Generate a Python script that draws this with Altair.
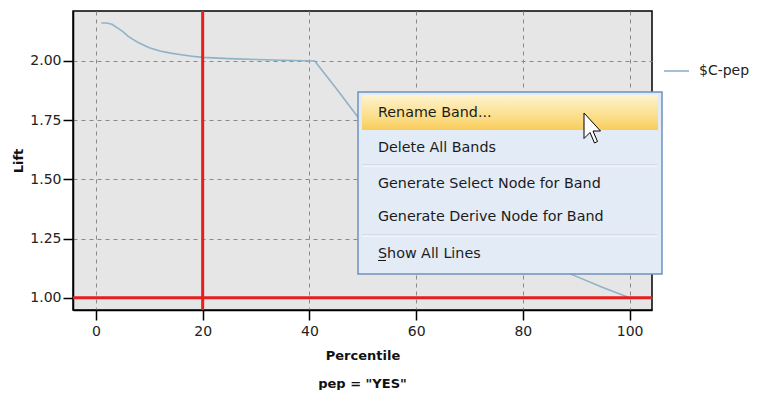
import altair as alt
import pandas as pd

# ---- data ----
percentile = [1, 2, 3, 4, 5, 6, 7, 8, 10, 12, 14, 16, 18, 20, 25, 30, 35, 41,
              45, 49, 55, 60, 65, 70, 75, 80, 85, 90, 95, 100]
lift = [2.16, 2.16, 2.155, 2.14, 2.125, 2.105, 2.09, 2.077, 2.056, 2.042, 2.033,
        2.026, 2.02, 2.015, 2.01, 2.006, 2.003, 2.0,
        1.885, 1.765, 1.62, 1.51, 1.415, 1.335, 1.262, 1.196, 1.139, 1.09, 1.043, 1.0]
series_name = ["$C-pep"]
x_ticks = [0, 20, 40, 60, 80, 100]
y_ticks = [1.0, 1.25, 1.5, 1.75, 2.0]
band_x = [20]
band_y = [1.0]
menu_items = ["Rename Band...", "Delete All Bands", "Generate Select Node for Band",
              "Generate Derive Node for Band", "Show All Lines"]
caption = ['pep = "YES"']

FONT = "DejaVu Sans"
W, H = 579, 299

x_scale = alt.Scale(domain=[-4.3, 104.2], nice=False, zero=False)
y_scale = alt.Scale(domain=[0.948, 2.211], nice=False, zero=False)

df = pd.DataFrame({"Percentile": percentile, "Lift": lift,
                   "series": [series_name[0]] * len(percentile)})

line = alt.Chart(df).mark_line(strokeWidth=1.6, clip=True).encode(
    x=alt.X("Percentile:Q", scale=x_scale,
            axis=alt.Axis(values=x_ticks, title="Percentile", format="d")),
    y=alt.Y("Lift:Q", scale=y_scale,
            axis=alt.Axis(values=y_ticks, title="Lift", format=".2f")),
    color=alt.Color("series:N", scale=alt.Scale(range=["#8fb2c6"]),
                    legend=alt.Legend(title=None, orient="none", legendX=590, legendY=46.5,
                                      symbolType="stroke", symbolSize=625,
                                      symbolStrokeWidth=1.6, labelOffset=9,
                                      labelFont=FONT, labelFontSize=14,
                                      labelColor="#222222", padding=0)),
)

vrule = alt.Chart(pd.DataFrame({"b": band_x})).mark_rule(
    color="#e61e1e", strokeWidth=3).encode(x=alt.X("b:Q", scale=x_scale))
hrule = alt.Chart(pd.DataFrame({"b": band_y})).mark_rule(
    color="#e61e1e", strokeWidth=3).encode(y=alt.Y("b:Q", scale=y_scale))

one = pd.DataFrame({"a": [0]})

# ---- context menu overlay ----
menu_box = alt.Chart(one).mark_rect(fill="#e3ebf7", stroke="#6d93bf", strokeWidth=1.5).encode(
    x=alt.value(285), x2=alt.value(589), y=alt.value(81), y2=alt.value(263))

grad = alt.LinearGradient(
    gradient="linear", x1=0, x2=0, y1=0, y2=1,
    stops=[alt.GradientStop(color="#fdf3cf", offset=0),
           alt.GradientStop(color="#fbdb80", offset=0.7),
           alt.GradientStop(color="#f8cc5a", offset=1)])
highlight = alt.Chart(one).mark_rect(fill=grad).encode(
    x=alt.value(289), x2=alt.value(585), y=alt.value(84), y2=alt.value(119))

seps = []
for sy in [154, 224]:
    seps.append(alt.Chart(one).mark_rule(color="#c3ccd8", strokeWidth=1).encode(
        x=alt.value(289), x2=alt.value(584), y=alt.value(sy)))
    seps.append(alt.Chart(one).mark_rule(color="#ffffff", strokeWidth=1).encode(
        x=alt.value(289), x2=alt.value(584), y=alt.value(sy + 1)))

item_y = [102, 137, 173, 206, 243]
items = []
for label, iy in zip(menu_items, item_y):
    items.append(alt.Chart(pd.DataFrame({"t": [label]})).mark_text(
        align="left", baseline="middle", font=FONT, fontSize=14.3, color="#1b1b1b").encode(
        x=alt.value(305), y=alt.value(iy), text="t:N"))

underline = alt.Chart(one).mark_rule(color="#1b1b1b", strokeWidth=1).encode(
    x=alt.value(305), x2=alt.value(313), y=alt.value(249.5))

cursor = alt.Chart(one).mark_point(
    shape="M-1,-1 L-1,0.7 L-0.6,0.3 L-0.3,1 L-0.1,0.9 L-0.4,0.2 L0.1,0.2 Z",
    size=900, filled=True, fill="#ffffff", stroke="#000000", strokeWidth=1, opacity=1
).encode(x=alt.value(526), y=alt.value(117))

cap = alt.Chart(pd.DataFrame({"t": caption})).mark_text(
    align="center", baseline="middle", font=FONT, fontSize=13, fontWeight="bold",
    color="#111111").encode(x=alt.value(289.5), y=alt.value(373), text="t:N")

chart = alt.layer(
    line, vrule, hrule, menu_box, highlight, *seps, *items, underline, cursor, cap
).properties(
    width=W, height=H,
    padding={"left": 65, "top": 3, "right": 101, "bottom": 80},
    autosize=alt.AutoSizeParams(type="none"),
).configure_view(
    fill="#e6e6e6", stroke="#000000", strokeWidth=1.5
).configure_axis(
    grid=True, gridColor="#8a8a8a", gridDash=[4, 4], gridWidth=1,
    domainColor="#000000", domainWidth=1.5,
    tickColor="#000000", tickSize=10, tickWidth=1.5,
    labelFont=FONT, labelFontSize=14, labelColor="#222222", labelPadding=2,
    titleFont=FONT, titleFontSize=13, titleFontWeight="bold", titleColor="#111111",
).configure_axisX(
    titlePadding=11, labelPadding=4
).configure_axisY(
    titlePadding=4
)

chart.save("out.html", embed_options={"renderer": "svg", "actions": False})
